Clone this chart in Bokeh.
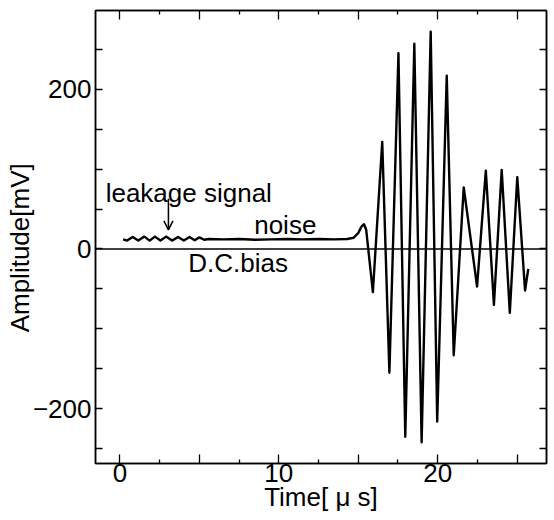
from bokeh.plotting import figure
from bokeh.models import (Range1d, FixedTicker, LinearAxis, Label, Arrow, OpenHead, Span,
                          CustomLabelingPolicy)
from bokeh.embed import file_html
from bokeh.resources import INLINE

# ---- data ----
time_us = [0.20, 0.45, 0.80, 1.15, 1.54, 1.87, 2.20, 2.55, 2.90, 3.28,
           3.66, 4.02, 4.38, 4.70, 5.00, 5.30, 5.60, 6.50, 7.50, 8.50,
           9.50, 10.50, 11.50, 12.50, 13.50, 14.30, 14.70, 15.00, 15.20, 15.36,
           15.50, 15.92, 16.51, 16.96, 17.53, 17.96, 18.53, 18.99, 19.56, 19.97,
           20.57, 21.01, 21.64, 22.48, 23.03, 23.54, 24.03, 24.54, 25.01, 25.50,
           25.70]
amp_mv = [12, 10.5, 15, 10.5, 15.5, 10.5, 15.5, 10.5, 15.5, 10.5,
          15, 10.5, 15, 11, 14.5, 11.5, 12.5, 12, 12.5, 11.5,
          12, 12.5, 12, 12.5, 12, 12.5, 14, 20, 28, 31,
          24, -54, 134, -155, 245, -235, 257, -242, 272, -216,
          217, -133, 77, -47, 98, -70, 99, -80, 90, -52,
          -25]

dc_bias_mv = 0

x_major = [0, 5, 10, 15, 20, 25]
x_minor = [2.5, 7.5, 12.5, 17.5, 22.5]
x_label_idx = [0, 2, 4]          # 0, 10, 20 carry labels

y_ticks = [-250, -200, -150, -100, -50, 0, 50, 100, 150, 200, 250]
y_label_idx = [1, 5, 9]          # -200, 0, 200 carry labels
y_overrides = {-200: "\u2212200"}

annotations = [
    ("leakage signal", -0.90, 70),
    ("noise", 8.45, 30),
    ("D.C.bias", 4.30, -17),
]
arrow_x, arrow_y0, arrow_y1 = 3.05, 63, 24

FONT = "Liberation Sans"
FS = "26px"


def keep_policy(idx):
    return CustomLabelingPolicy(args=dict(keep=idx), code="""
        for (let i = 0; i < indices.size; i++) {
            if (!keep.includes(i)) indices.unset(i)
        }
        return indices
    """)


p = figure(width=554, height=520, output_backend="svg", toolbar_location=None,
           x_range=Range1d(-1.54, 26.85), y_range=Range1d(-268.5, 298.5),
           min_border_left=95, min_border_right=6, min_border_top=10,
           min_border_bottom=57)
p.grid.visible = False
p.background_fill_color = "white"
p.border_fill_color = "white"
p.outline_line_color = "black"
p.outline_line_width = 1.5

# axes
xa = p.xaxis[0]
xa.ticker = FixedTicker(ticks=x_major, minor_ticks=x_minor)
xa.major_label_policy = keep_policy(x_label_idx)
ya = p.yaxis[0]
ya.ticker = FixedTicker(ticks=y_ticks, minor_ticks=[])
ya.major_label_overrides = y_overrides
ya.major_label_policy = keep_policy(y_label_idx)

top = LinearAxis(ticker=FixedTicker(ticks=x_major, minor_ticks=x_minor))
right = LinearAxis(ticker=FixedTicker(ticks=y_ticks, minor_ticks=[]))
p.add_layout(top, "above")
p.add_layout(right, "right")

for ax in (xa, top):
    ax.major_tick_in = 9
    ax.major_tick_out = 0
    ax.minor_tick_in = 4
    ax.minor_tick_out = 0
for ax in (ya, right):
    ax.major_tick_in = 7
    ax.major_tick_out = 0
    ax.minor_tick_in = 0
    ax.minor_tick_out = 0
for ax in (xa, ya, top, right):
    ax.axis_line_color = "black"
    ax.axis_line_width = 1.5
    ax.major_tick_line_color = "black"
    ax.major_tick_line_width = 1.3
    ax.minor_tick_line_color = "black"
    ax.minor_tick_line_width = 1.3
    ax.major_label_text_font = FONT
    ax.major_label_text_font_size = FS
    ax.major_label_text_color = "black"
for ax in (top, right):
    ax.major_label_text_font_size = "2px"
    ax.major_label_standoff = 0
    ax.major_label_policy = keep_policy([])

xa.major_label_standoff = 0
ya.major_label_standoff = 4

xa.axis_label = "Time[ \u03bc s]"
ya.axis_label = "Amplitude[mV]\u00a0\u00a0\u00a0"
for ax in (xa, ya):
    ax.axis_label_text_font = FONT
    ax.axis_label_text_font_size = FS
    ax.axis_label_text_font_style = "normal"
    ax.axis_label_text_color = "black"
xa.axis_label_standoff = -3
ya.axis_label_standoff = -5

# D.C. bias line
p.add_layout(Span(location=dc_bias_mv, dimension="width", line_color="black",
                  line_width=1.5))

# signal
p.line(time_us, amp_mv, line_color="black", line_width=2.4, line_join="round")

# annotations
for txt, tx, ty in annotations:
    p.add_layout(Label(x=tx, y=ty, text=txt, text_font=FONT, text_font_size=FS,
                       text_baseline="alphabetic", text_align="left",
                       text_color="black"))
p.add_layout(Arrow(x_start=arrow_x, y_start=arrow_y0, x_end=arrow_x, y_end=arrow_y1,
                   line_color="black", line_width=1.5,
                   end=OpenHead(size=9, line_color="black", line_width=1.5)))

open("out.html", "w").write(file_html(p, INLINE))
